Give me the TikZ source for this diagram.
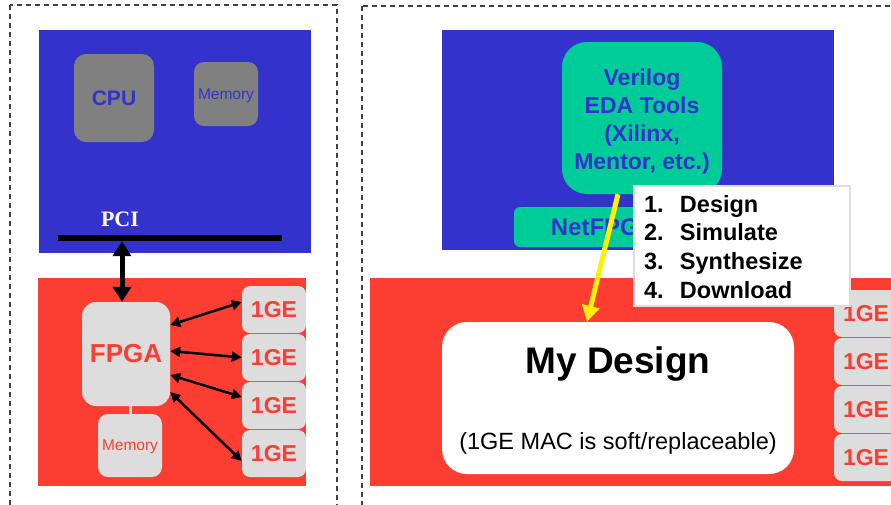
\documentclass[tikz,border=0pt]{standalone}
\usepackage{fontspec}
\setmainfont{Liberation Sans}
\newfontfamily\pcifont{Liberation Serif}
\usetikzlibrary{arrows.meta}

\definecolor{hostblue}{RGB}{51,51,204}
\definecolor{boardred}{RGB}{252,62,50}
\definecolor{toolgreen}{RGB}{0,204,153}
\definecolor{cpugray}{RGB}{128,128,128}
\definecolor{chipgray}{RGB}{221,221,221}

\begin{document}
\begin{tikzpicture}[x=1pt, y=-1pt,
	panel/.style={draw=black!75, line width=1.2pt, dash pattern=on 5pt off 4pt},
	area/.style={rectangle, inner sep=0pt},
	chip/.style={rectangle, inner sep=0pt, fill=chipgray, text=boardred},
	bold23/.style={font=\fontsize{23}{28}\selectfont\bfseries},
	gearrow/.style={line width=2.5pt, {Triangle[width=10pt,length=10pt]}-{Triangle[width=10pt,length=10pt]}}
]

	\useasboundingbox (0,0) rectangle (891,504);
	\clip (0,0) rectangle (891,504);

	% left: the board in a host PC
	\draw[panel] (10,5) rectangle (337,530);

	\node[area, fill=hostblue, minimum width=272pt, minimum height=223pt] (host) at (175,141.5) {};
	\node[area, fill=cpugray, rounded corners=12pt, minimum width=80pt, minimum height=88pt,
		text=hostblue, font=\fontsize{21}{25}\selectfont\bfseries] (cpu) at (114,98) {CPU};
	\node[area, fill=cpugray, rounded corners=10pt, minimum width=64pt, minimum height=64pt, text depth=0pt,
		text=hostblue, font=\fontsize{15.5}{18}\selectfont] (hostmem) at (226,94) {Memory};
	\node[text=white, font=\fontsize{22}{26}\selectfont\pcifont\bfseries] (pci) at (120,219) {PCI};
	\node[area, fill=black, minimum width=224pt, minimum height=6pt] (bus) at (170,238) {};

	\node[area, fill=boardred, minimum width=268pt, minimum height=208pt] (board) at (172,382) {};
	\node[chip, rounded corners=14pt, minimum width=88pt, minimum height=104pt,
		font=\fontsize{26}{30}\selectfont\bfseries] (fpga) at (126,354) {FPGA};
	\node[chip, rounded corners=10pt, minimum width=64pt, minimum height=63pt, text depth=0pt,
		font=\fontsize{15.5}{18}\selectfont] (boardmem) at (130,445.5) {Memory};
	\node[chip, rounded corners=8pt, minimum width=64pt, minimum height=47pt, bold23] (geA) at (274,309.5) {1GE};
	\node[chip, rounded corners=8pt, minimum width=64pt, minimum height=47pt, bold23] (geB) at (274,357.5) {1GE};
	\node[chip, rounded corners=8pt, minimum width=64pt, minimum height=47pt, bold23] (geC) at (274,405.5) {1GE};
	\node[chip, rounded corners=8pt, minimum width=64pt, minimum height=47pt, bold23] (geD) at (274,453.5) {1GE};

	\draw[chipgray, line width=3pt] (boardmem.north) -- (boardmem.north |- fpga.south);
	\draw[line width=5pt, {Triangle[width=18pt,length=15pt]}-{Triangle[width=18pt,length=15pt]}]
		([xshift=-4pt]fpga.north |- bus.south) -- ([xshift=-4pt]fpga.north);
	\draw[gearrow] ([yshift=29pt]fpga.east) -- ([yshift=7.5pt]geA.west);
	\draw[gearrow] ([yshift=3pt]fpga.east) -- (geB.west);
	\draw[gearrow] ([yshift=-21pt]fpga.east) -- ([yshift=8.5pt]geC.west);
	\draw[gearrow] ([yshift=-38pt]fpga.east) -- ([yshift=-7.5pt]geD.west);

	% right: the design flow onto the board
	\draw[panel] (362,6) rectangle (930,530);

	\node[area, fill=boardred, minimum width=560pt, minimum height=208pt] (myboard) at (650,382) {};
	\node[chip, rounded corners=8pt, minimum width=64pt, minimum height=47pt, bold23] (gerA) at (866,313.5) {1GE};
	\node[chip, rounded corners=8pt, minimum width=64pt, minimum height=47pt, bold23] (gerB) at (866,361.5) {1GE};
	\node[chip, rounded corners=8pt, minimum width=64pt, minimum height=47pt, bold23] (gerC) at (866,409.5) {1GE};
	\node[chip, rounded corners=8pt, minimum width=64pt, minimum height=47pt, bold23] (gerD) at (866,457.5) {1GE};
	\node[area, fill=white, rounded corners=25pt, minimum width=352pt, minimum height=152pt] (mydesign) at (618,398) {};
	\node[font=\fontsize{37}{42}\selectfont\bfseries] (title) at (618,364) {My Design};
	\node[font=\fontsize{23.5}{28}\selectfont] (note) at (618,443) {(1GE MAC is soft/replaceable)};

	\node[area, fill=hostblue, minimum width=392pt, minimum height=220pt] (toolhost) at (638,140) {};
	\node[area, fill=toolgreen, rounded corners=25pt, minimum width=160pt, minimum height=152pt] (eda) at (642,118) {};
	\node[text=hostblue, align=center, font=\fontsize{23}{28.3}\selectfont\bfseries] (edatext) at (642,121.5)
		{Verilog\\EDA Tools\\(Xilinx,\\Mentor, etc.)};
	\node[area, fill=toolgreen, rounded corners=6pt, minimum width=179pt, minimum height=40pt,
		text=hostblue, font=\fontsize{24}{28}\selectfont\bfseries] (netfpga) at (603.5,227) {NetFPGA};
	\node[area, fill=white, draw=chipgray, line width=1.5pt, minimum width=216pt, minimum height=120pt,
		text width=196pt, align=left, font=\fontsize{23.5}{28.7}\selectfont\bfseries] (steps) at (742,246)
		{\raisebox{-3.5pt}[\height][\depth]{\begin{tabular}{@{}p{36pt}@{}l@{}}1. & Design\\2. & Simulate\\3. & Synthesize\\4. & Download\end{tabular}}};

	\draw[yellow, line width=5pt, -{Triangle[width=17pt,length=16pt]}]
		([xshift=-24pt]eda.south) -- ([xshift=-31pt]mydesign.north);

\end{tikzpicture}
\end{document}
